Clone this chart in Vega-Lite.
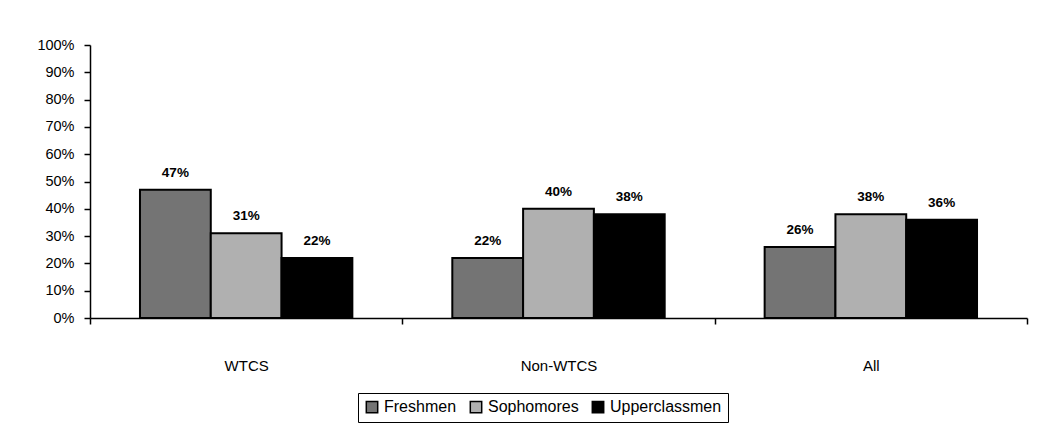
{
  "$schema": "https://vega.github.io/schema/vega-lite/v6.json",
  "width": 937,
  "height": 273,
  "autosize": {"type": "none"},
  "padding": {"left": 90, "top": 45, "right": 10, "bottom": 115},
  "background": "white",
  "config": {
    "font": "Liberation Sans",
    "view": {"stroke": null},
    "axis": {"labelFont": "Liberation Sans", "labelColor": "black", "domainColor": "black", "tickColor": "black"}
  },
  "data": {
    "values": [
      {"group": "WTCS", "cls": "Freshmen", "value": 0.47},
      {"group": "WTCS", "cls": "Sophomores", "value": 0.31},
      {"group": "WTCS", "cls": "Upperclassmen", "value": 0.22},
      {"group": "Non-WTCS", "cls": "Freshmen", "value": 0.22},
      {"group": "Non-WTCS", "cls": "Sophomores", "value": 0.40},
      {"group": "Non-WTCS", "cls": "Upperclassmen", "value": 0.38},
      {"group": "All", "cls": "Freshmen", "value": 0.26},
      {"group": "All", "cls": "Sophomores", "value": 0.38},
      {"group": "All", "cls": "Upperclassmen", "value": 0.36}
    ]
  },
  "encoding": {
    "x": {
      "field": "group", "type": "nominal", "sort": ["WTCS", "Non-WTCS", "All"],
      "scale": {"paddingInner": 0, "paddingOuter": 0},
      "axis": {"title": null, "labelAngle": 0, "labelFontSize": 15, "labelPadding": 34, "tickBand": "extent", "tickSize": 6, "domainWidth": 1.5, "tickWidth": 1.5}
    },
    "xOffset": {"field": "cls", "type": "nominal", "sort": ["Freshmen", "Sophomores", "Upperclassmen"], "scale": {"paddingInner": 0, "paddingOuter": 0.706}},
    "y": {
      "field": "value", "type": "quantitative",
      "scale": {"domain": [0, 1], "nice": false},
      "axis": {"title": null, "format": ".0%", "values": [0, 0.1, 0.2, 0.3, 0.4, 0.5, 0.6, 0.7, 0.8, 0.9, 1], "grid": false, "labelFontSize": 14.5, "tickSize": 6, "tickWidth": 1.5, "labelPadding": 10, "domainWidth": 1.5}
    }
  },
  "layer": [
    {
      "mark": {"type": "bar", "stroke": "black", "strokeWidth": 2},
      "encoding": {
        "fill": {
          "field": "cls", "type": "nominal",
          "sort": ["Freshmen", "Sophomores", "Upperclassmen"],
          "scale": {"domain": ["Freshmen", "Sophomores", "Upperclassmen"], "range": ["#747474", "#b0b0b0", "#000000"]},
          "legend": {
            "title": null, "orient": "none", "direction": "horizontal",
            "legendX": 268, "legendY": 348,
            "strokeColor": "black", "padding": 6,
            "symbolType": "square", "symbolSize": 130, "symbolStrokeColor": "black", "symbolStrokeWidth": 1.5,
            "labelFontSize": 16, "labelColor": "black", "labelFont": "Liberation Sans", "labelOffset": 4,
            "columnPadding": 10, "symbolOffset": 0
          }
        }
      }
    },
    {
      "mark": {"type": "text", "dy": -10, "fontWeight": "bold", "fontSize": 13.5, "color": "black", "baseline": "bottom"},
      "encoding": {
        "text": {"field": "value", "type": "quantitative", "format": ".0%"}
      }
    }
  ]
}
